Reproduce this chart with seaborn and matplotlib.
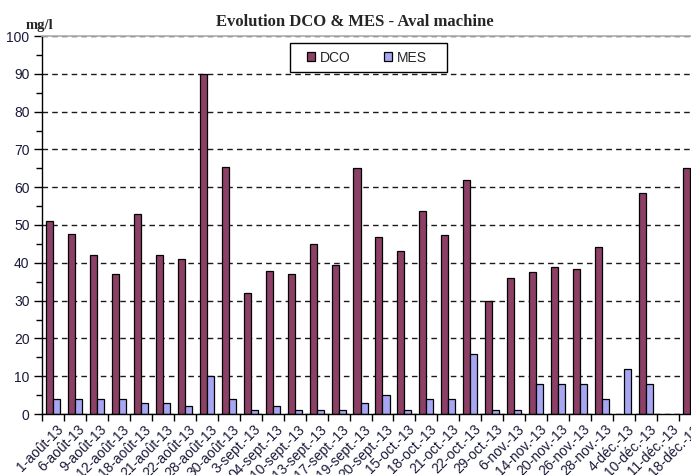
import matplotlib
matplotlib.use("Agg")
import matplotlib.pyplot as plt
from matplotlib.patches import Rectangle
from matplotlib.ticker import MultipleLocator, FixedLocator
from matplotlib.transforms import ScaledTranslation
import numpy as np
import pandas as pd
import seaborn as sns

# ── Data ────────────────────────────────────────────────────────────────
dates = [
    "1-août-13", "6-août-13", "9-août-13", "12-août-13", "18-août-13",
    "21-août-13", "22-août-13", "28-août-13", "30-août-13", "3-sept.-13",
    "04-sept.-13", "10-sept.-13", "13-sept.-13", "17-sept.-13", "19-sept.-13",
    "20-sept.-13", "15-oct.-13", "18-oct.-13", "21-oct.-13", "22-oct.-13",
    "29-oct.-13", "6-nov.-13", "14-nov.-13", "20-nov.-13", "26-nov.-13",
    "28-nov.-13", "4-déc.-13", "10-déc.-13", "11-déc.-13", "18-déc.-13",
]
dco = [51.1, 47.6, 42, 37, 52.8, 42, 41, 89.9, 65.3, 32.1,
       37.9, 37, 45.1, 39.3, 65, 46.7, 43.1, 53.7, 47.4, 61.8,
       30, 35.9, 37.5, 38.8, 38.4, 44.3, np.nan, 58.4, np.nan, 65]
mes = [4, 4, 4, 4, 3, 3, 2, 10, 4, 1,
       2, 1, 1, 1, 3, 5, 1, 4, 4, 16,
       1, 1, 8, 8, 8, 4, 12, 8, np.nan, np.nan]
series = ["DCO", "MES"]
colors = {"DCO": "#993366", "MES": "#9999FF"}

df = pd.DataFrame({"date": dates, "DCO": dco, "MES": mes})
long = df.melt(id_vars="date", var_name="serie", value_name="value").dropna()

# ── Figure ──────────────────────────────────────────────────────────────
sns.set_theme(style="white")
plt.rcParams["font.family"] = ["Liberation Sans", "DejaVu Sans"]

W, H = 691, 475
fig = plt.figure(figsize=(W / 100, H / 100), dpi=100)
ax = fig.add_axes([42 / W, 1 - 414 / H, 659 / W, 378 / H])

sns.barplot(data=long, x="date", y="value", hue="serie", order=dates,
            hue_order=series, palette=colors, width=0.64, gap=0,
            edgecolor="black", linewidth=0.9, errorbar=None, ax=ax,
            legend=False)

ax.set_xlim(-0.5, len(dates) - 0.5)
ax.set_ylim(0, 100)
ax.set_xlabel("")
ax.set_ylabel("")

# gridlines
ax.yaxis.set_major_locator(MultipleLocator(10))
ax.yaxis.set_minor_locator(MultipleLocator(5))
ax.grid(axis="y", which="major", color="#1a1a1a", linestyle=(0, (4, 3)),
        linewidth=1)
ax.set_axisbelow(True)

# spines
for s in ["left", "bottom"]:
    ax.spines[s].set_color("black")
    ax.spines[s].set_linewidth(1)
ax.spines["top"].set_color("#b0b0b0")
ax.spines["right"].set_color("#b0b0b0")

# ticks
ax.tick_params(axis="y", which="major", direction="out", length=6,
               width=1, color="black", labelsize=10, labelcolor="#1a1a3a",
               left=True, pad=3)
ax.tick_params(axis="y", which="minor", direction="out", length=4,
               width=1, color="black", left=True)
ax.xaxis.set_minor_locator(FixedLocator(np.arange(-0.5, len(dates), 1)))
ax.tick_params(axis="x", which="minor", direction="out", length=5,
               width=1, color="black", bottom=True)
ax.tick_params(axis="x", which="major", length=0, labelsize=10,
               labelcolor="#1a1a3a", pad=6)
shift = ScaledTranslation(3 / 100, 0, fig.dpi_scale_trans)
for lab in ax.get_xticklabels():
    lab.set_rotation(45)
    lab.set_ha("right")
    lab.set_rotation_mode("anchor")
    lab.set_transform(lab.get_transform() + shift)

# legend (box drawn separately: wider horizontal padding than vertical)
handles = [ax.containers[0].patches[0], ax.containers[1].patches[0]]
ax.legend(handles, series, loc="center",
          bbox_to_anchor=((367 - 42) / 659, (414 - 57.5) / 378),
          ncol=2, frameon=False, fontsize=10, handlelength=0.6,
          handleheight=0.6, handletextpad=0.35, columnspacing=2.4,
          borderpad=0.2)
ax.add_patch(Rectangle(((290 - 42) / 659, (414 - 72) / 378),
                       157 / 659, 29 / 378, transform=ax.transAxes,
                       facecolor="white", edgecolor="black", linewidth=1,
                       zorder=4, clip_on=False))

# titles
fig.text(355 / W, 1 - 22 / H, "Evolution DCO & MES - Aval machine",
         ha="center", va="center", fontsize=12, fontweight="bold",
         family=["Liberation Serif", "DejaVu Serif"])
fig.text(39.5 / W, 1 - 25.5 / H, "mg/l", ha="center", va="center",
         fontsize=10.5, fontweight="bold",
         family=["Liberation Serif", "DejaVu Serif"])

fig.savefig("out.png", dpi=100)
